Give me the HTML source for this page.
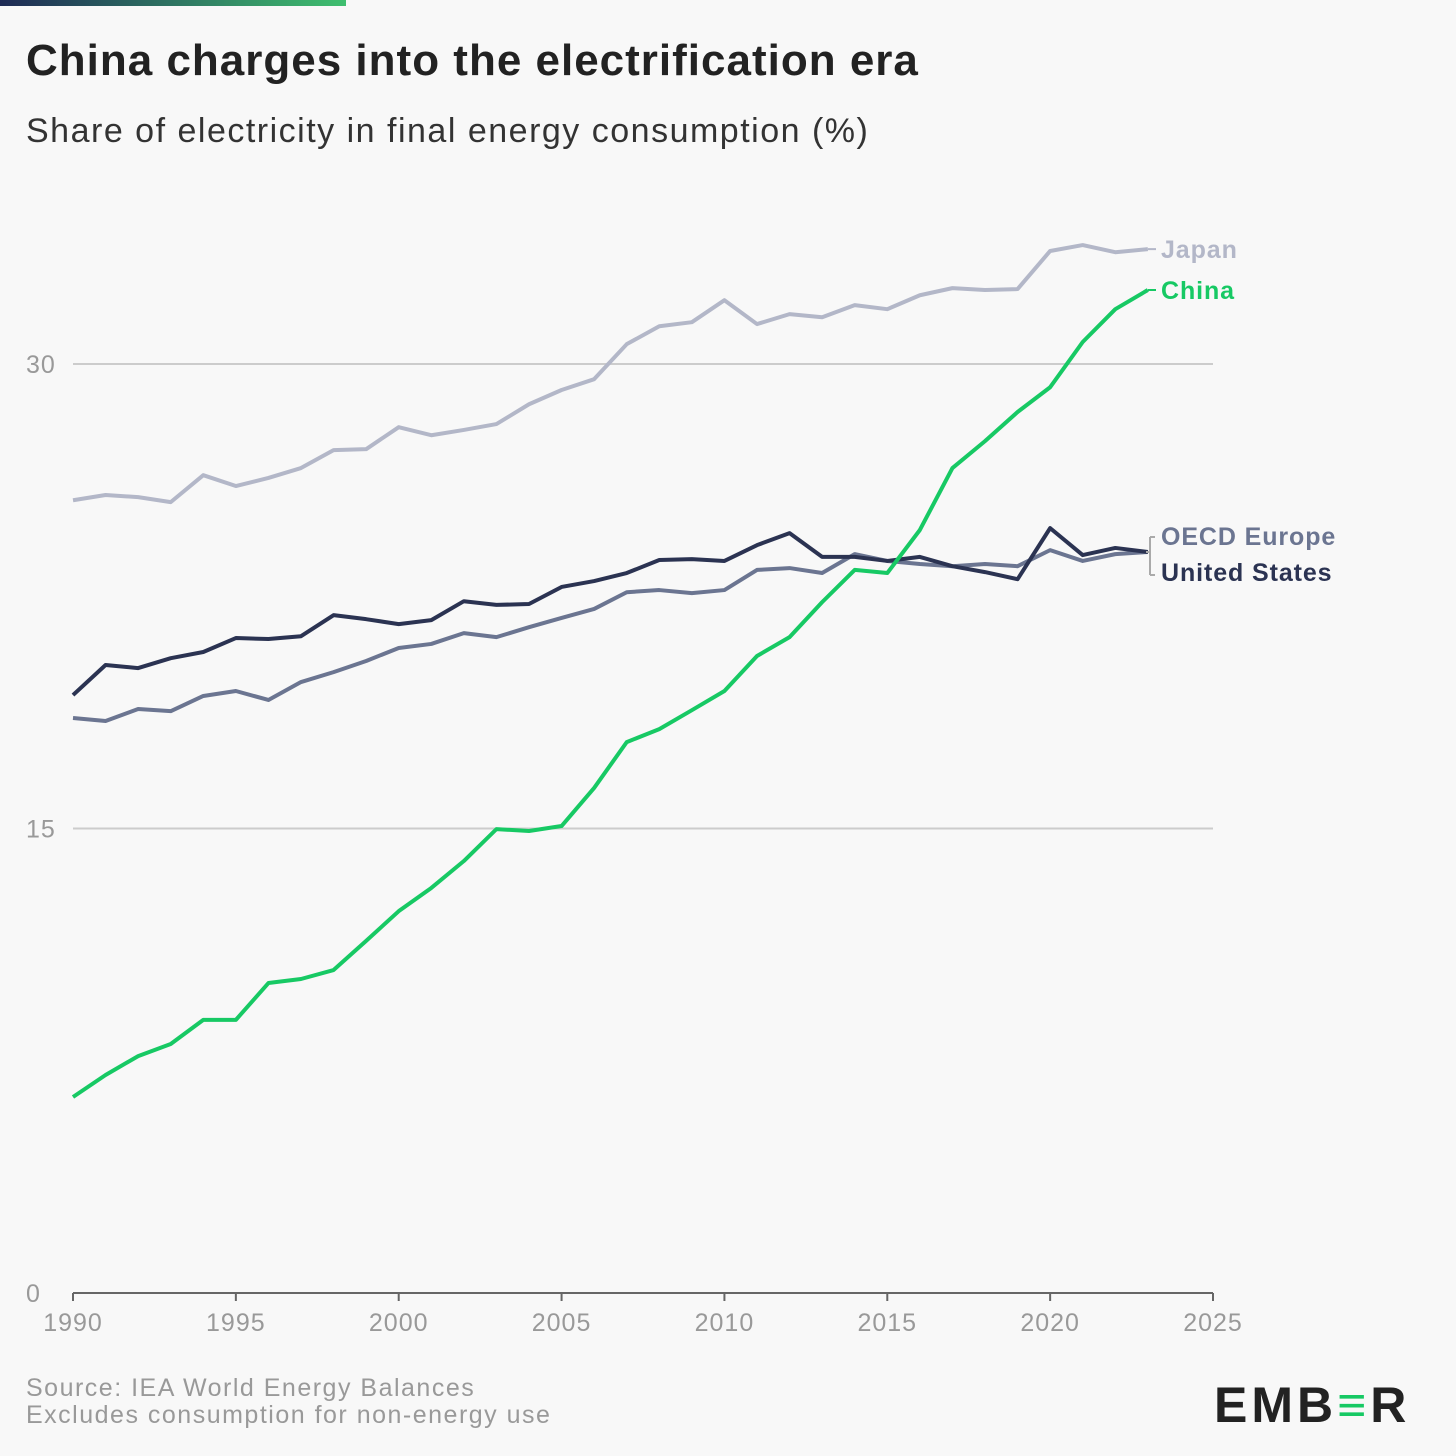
<!DOCTYPE html>
<html><head><meta charset="utf-8"><style>
body{margin:0;background:#f8f8f8;font-family:"Liberation Sans",sans-serif;}
#wrap{position:relative;width:1456px;height:1456px;overflow:hidden;background:#f8f8f8;}
.t{position:absolute;white-space:nowrap;}
</style></head><body>
<div id="wrap">
<div style="position:absolute;left:0;top:0;width:346px;height:6px;background:linear-gradient(90deg,#1e2a55,#3fbf6f);"></div>
<div class="t" style="left:26px;top:36px;font-size:44px;letter-spacing:1px;font-weight:bold;color:#222;">China charges into the electrification era</div>
<div class="t" style="left:26px;top:112px;font-size:34px;letter-spacing:1.5px;color:#333;">Share of electricity in final energy consumption (%)</div>
<svg id="chart" width="1456" height="1456" style="position:absolute;left:0;top:0;"></svg>
<div class="t" style="left:26px;top:1375px;font-size:25px;letter-spacing:1.5px;color:#999;line-height:27px;">Source: IEA World Energy Balances<br>Excludes consumption for non-energy use</div>
<div class="t" style="left:1214px;top:1376px;font-size:50px;font-weight:bold;color:#222;letter-spacing:4px;">EMB<span style="color:#17c964">≡</span>R</div>
</div>
<script>
const years=[];for(let y=1990;y<=2023;y++)years.push(y);
const japan=[25.6,25.77,25.7,25.54,26.41,26.06,26.32,26.64,27.22,27.25,27.96,27.7,27.87,28.06,28.7,29.16,29.51,30.64,31.22,31.35,32.06,31.29,31.61,31.51,31.9,31.77,32.22,32.45,32.39,32.42,33.65,33.84,33.61,33.71];
const china=[6.33,7.04,7.65,8.04,8.82,8.82,10.01,10.14,10.43,11.37,12.33,13.08,13.95,14.98,14.92,15.08,16.31,17.79,18.21,18.82,19.44,20.57,21.18,22.31,23.35,23.25,24.64,26.64,27.51,28.45,29.25,30.71,31.77,32.39];
const us=[19.31,20.28,20.18,20.5,20.7,21.15,21.12,21.21,21.89,21.76,21.6,21.73,22.34,22.22,22.25,22.8,22.99,23.25,23.67,23.7,23.64,24.15,24.54,23.77,23.77,23.64,23.77,23.47,23.28,23.05,24.7,23.83,24.06,23.93];
const europe=[18.57,18.47,18.86,18.79,19.28,19.44,19.15,19.73,20.05,20.41,20.83,20.96,21.31,21.18,21.5,21.8,22.09,22.63,22.7,22.6,22.7,23.35,23.41,23.25,23.86,23.64,23.54,23.47,23.54,23.47,23.99,23.64,23.86,23.93];
const yTicks=[0,15,30];
const xTicks=[1990,1995,2000,2005,2010,2015,2020,2025];
const NS='http://www.w3.org/2000/svg';
const svg=document.getElementById('chart');
const X=v=>73+(v-1990)*(1213-73)/35;
const Y=v=>1293-v*(1293-364)/30;
function mk(tag,a){const e=document.createElementNS(NS,tag);for(const k in a)e.setAttribute(k,a[k]);svg.appendChild(e);return e;}
yTicks.forEach(v=>{
 const l=mk('line',{x1:73,x2:1213,y1:Y(v),y2:Y(v),stroke:v===0?'#666':'#ccc','stroke-width':2});
 
 
 const t=mk('text',{x:26,y:Y(v)+9,'font-size':25,'letter-spacing':1,fill:'#999','font-family':'Liberation Sans, sans-serif'});
 t.textContent=v;
 
 
});
xTicks.forEach(v=>{
 const l=mk('line',{x1:X(v),x2:X(v),y1:1293,y2:1301,stroke:'#666','stroke-width':2});
 
 
 const t=mk('text',{x:X(v),y:1331,'font-size':25,'letter-spacing':1,fill:'#999','text-anchor':'middle','font-family':'Liberation Sans, sans-serif'});
 t.textContent=v;
 
 
});
const series=[['japan',japan,'#b3b7c8'],['europe',europe,'#6b7591'],['us',us,'#2b3352'],['china',china,'#17c964']];
series.forEach(([n,d,c])=>{
 const p=mk('polyline',{points:d.map((v,i)=>X(years[i])+','+Y(v)).join(' '),fill:'none',stroke:c,'stroke-width':4,'stroke-linejoin':'round'});
 
 
});
function lab(txt,y,c,name){
 const t=mk('text',{x:1161,y:y,'font-size':25,'letter-spacing':0.9,'font-weight':'bold',fill:c,'font-family':'Liberation Sans, sans-serif'});
 t.textContent=txt;
 
 
}
const last=japan.length-1;
mk('line',{x1:X(2023),x2:1156,y1:Y(japan[last]),y2:Y(japan[last]),stroke:'#b3b7c8','stroke-width':2});
mk('line',{x1:X(2023),x2:1156,y1:Y(china[last]),y2:Y(china[last]),stroke:'#17c964','stroke-width':2});
mk('path',{d:'M1146 '+Y(us[last])+' H1150 M1150 537 V575 M1150 537 H1155 M1150 575 H1155',stroke:'#aaa','stroke-width':2,fill:'none'});
lab('Japan',Y(japan[last])+9,'#b3b7c8','label-japan');
lab('China',Y(china[last])+9,'#17c964','label-china');
lab('OECD Europe',545,'#6b7591','label-oecd-europe');
lab('United States',581,'#2b3352','label-united-states');
</script>
</body></html>
